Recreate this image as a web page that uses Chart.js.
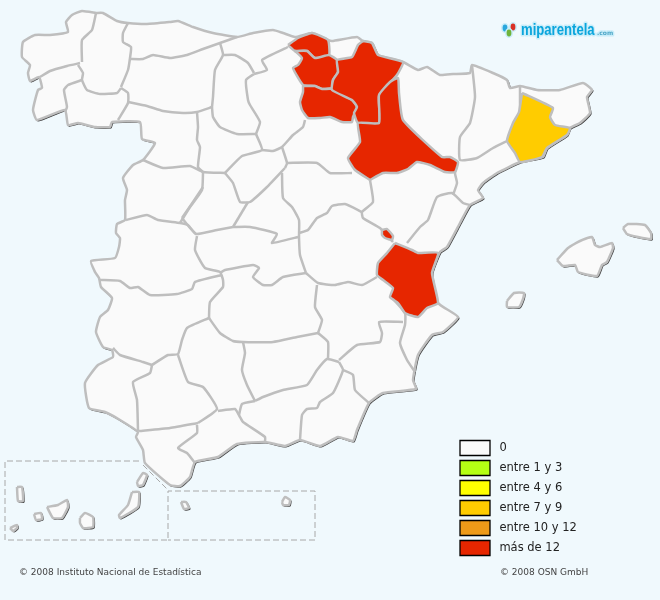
<!DOCTYPE html>
<html><head><meta charset="utf-8">
<style>html,body{margin:0;padding:0;background:#F0F9FD}canvas{display:block}</style>
<script src="https://cdn.jsdelivr.net/npm/chart.js@4/dist/chart.umd.js"></script>
</head><body><canvas id="c" width="660" height="600"></canvas>
<script>
// Map outlines, in the map's own x/y units
const coast=[[96,13],[103,13],[117,21],[128,23],[147,24],[170,22],[178,21],[193,27],[213,33],[237,37],[253,33],[273,30],[283,33],[295,37],[312,33],[328,40],[332,41],[357,37],[363,41],[372,43],[378,55],[403,62],[418,70],[427,67],[440,75],[453,74],[470,73],[472,65],[493,73],[507,80],[510,88],[520,86],[537,90],[560,90],[583,83],[592,90],[587,97],[590,113],[580,123],[570,128],[567,135],[547,148],[543,157],[520,162],[497,173],[483,183],[478,190],[483,198],[470,205],[460,223],[447,247],[440,252],[432,273],[438,303],[458,317],[443,332],[432,335],[418,355],[413,380],[416,389],[383,393],[369,403],[357,430],[353,441],[338,437],[320,446],[300,440],[285,446],[265,442],[237,444],[218,457],[195,462],[190,477],[180,486],[170,485],[145,463],[143,450],[136,437],[138,432],[120,420],[105,412],[89,408],[85,383],[98,365],[113,357],[112,350],[103,347],[96,332],[100,317],[108,310],[112,298],[101,287],[99,278],[95,272],[91,261],[115,258],[119,247],[120,238],[116,233],[117,224],[125,220],[125,200],[127,190],[123,178],[133,165],[143,160],[155,143],[142,139],[140,122],[112,122],[110,127],[95,127],[78,123],[68,125],[65,110],[37,120],[33,110],[38,90],[42,88],[39,77],[30,81],[28,73],[30,65],[22,57],[23,42],[35,35],[50,35],[68,32],[66,22],[72,15],[82,11],[96,13]];
const mallorca=[[557,260],[568,248],[580,241],[592,237],[595,245],[600,247],[612,243],[613,248],[607,262],[602,265],[597,276],[578,272],[575,265],[563,266],[557,260]];
const menorca=[[623,228],[628,224],[645,225],[651,233],[651,239],[638,237],[627,234],[623,228]];
const ibiza=[[507,301],[514,293],[524,293],[523,299],[519,307],[507,307],[507,301]];
const lanzarote=[[137,482],[143,473],[147,475],[143,485],[138,486],[137,482]];
const fuerteventura=[[132,492],[139,492],[138,507],[120,518],[119,515],[128,505],[132,492]];
const granCanaria=[[80,518],[85,513],[93,517],[93,527],[83,528],[80,523],[80,518]];
const tenerife=[[47,507],[58,505],[67,500],[68,507],[62,518],[53,518],[47,507]];
const gomera=[[34,514],[41,513],[42,519],[36,520],[34,514]];
const laPalma=[[17,487],[22,487],[23,501],[18,501],[17,487]];
const hierro=[[10,528],[17,525],[17,528],[13,531],[10,528]];
const ceuta=[[181,502],[186,502],[189,508],[184,509],[181,502]];
const melilla=[[282,502],[285,497],[290,500],[289,505],[283,505],[282,502]];
const islands=[mallorca,menorca,ibiza,lanzarote,fuerteventura,granCanaria,tenerife,gomera,laPalma,hierro,ceuta,melilla];

const borders=[
[[96,13],[92,30],[82,40],[82,62]],
[[40,77],[50,71],[67,66],[80,63]],
[[78,65],[83,73],[82,80],[87,90],[100,94],[117,93],[121,88]],
[[82,80],[68,85],[64,90],[67,107],[65,112]],
[[128,23],[123,33],[123,42],[131,47],[130,58],[128,70],[121,87]],
[[121,88],[128,93],[128,103],[118,120]],
[[130,59],[143,59],[153,55],[170,58],[187,55],[203,49],[220,43],[237,37]],
[[128,102],[147,106],[163,111],[183,113],[197,112],[212,107]],
[[220,43],[223,55],[215,70],[213,97],[212,107]],
[[223,55],[235,55],[248,63],[254,73]],
[[288,47],[262,60],[267,70],[254,74]],
[[254,74],[246,80],[248,100],[250,105],[260,122],[256,134]],
[[212,107],[213,117],[220,127],[237,134],[256,134]],
[[197,112],[198,127],[197,140],[200,147],[198,167],[203,172]],
[[256,134],[262,150],[242,156],[225,173]],
[[262,150],[273,151],[282,147],[293,135],[303,127],[305,120]],
[[225,173],[233,183],[240,202],[250,202],[267,187],[285,168]],
[[282,147],[287,163],[285,168]],
[[143,160],[163,168],[190,166],[203,172],[225,173]],
[[126,220],[147,215],[158,220],[180,223],[188,225],[196,234],[217,230],[233,227]],
[[180,223],[190,207],[202,190],[203,173]],
[[197,236],[195,250],[205,268],[220,272],[223,280],[223,287],[210,302],[209,318]],
[[182,218],[190,228],[196,234]],
[[203,187],[193,202],[182,218]],
[[233,227],[250,227],[277,234],[272,243],[298,237]],
[[248,202],[233,227]],
[[282,173],[283,198],[292,207],[299,220],[299,237],[300,255],[306,273]],
[[299,233],[308,230],[317,218],[327,213],[332,206],[345,204],[362,212]],
[[287,163],[317,163],[330,173],[352,173]],
[[370,180],[373,202],[362,212],[363,218],[380,228],[393,242]],
[[377,277],[362,285],[348,282],[335,285],[318,283],[306,273]],
[[220,273],[225,270],[253,265],[259,268],[253,277],[263,285],[272,285],[283,277],[306,273]],
[[100,280],[120,281],[130,288],[138,287],[150,295],[177,294],[192,289],[195,282],[222,275]],
[[209,318],[187,328],[182,340],[178,354],[168,355],[152,365]],
[[113,348],[120,355],[143,362],[152,365]],
[[152,365],[150,373],[133,382],[137,400],[138,431]],
[[178,355],[188,382],[203,387],[217,409],[198,423]],
[[139,431],[170,428],[198,423]],
[[197,425],[197,433],[178,448],[187,453],[195,463]],
[[218,411],[235,409],[240,417],[243,422],[265,437],[265,442]],
[[209,318],[220,333],[233,341],[243,342],[273,342],[297,337],[318,333]],
[[243,342],[245,353],[242,370],[247,385],[255,401]],
[[255,401],[242,404],[239,415]],
[[255,401],[263,397],[283,390],[307,385],[317,370],[327,359],[339,362]],
[[318,333],[328,342],[328,359]],
[[317,285],[315,307],[322,320],[318,333]],
[[339,360],[357,345],[380,342],[382,333],[379,322],[403,322]],
[[392,298],[405,313],[405,325],[400,343],[407,360],[415,372]],
[[300,440],[302,415],[307,409],[317,408],[320,402],[333,393],[343,370],[339,362]],
[[343,370],[353,375],[355,390],[369,403]],
[[407,243],[420,227],[428,220],[437,197],[452,193],[463,203],[470,205]],
[[358,123],[379,123]],
[[472,65],[475,97],[470,123],[460,137],[460,160],[477,158],[493,148],[507,141]],
[[458,162],[455,173],[457,183],[453,195]],
[[520,86],[520,110]]
];

const vizcaya=[[288,45],[298,38],[312,33],[328,40],[329,55],[315,58],[307,51],[295,51],[288,45]];
const alava=[[295,51],[302,58],[298,65],[293,68],[303,85],[315,86],[322,89],[332,88],[333,80],[338,72],[337,60],[329,55],[315,58],[307,51],[295,51]];
const laRioja=[[303,86],[315,86],[322,89],[332,89],[352,100],[357,107],[353,117],[352,122],[342,122],[330,117],[320,118],[308,118],[302,110],[300,102],[303,92],[303,86]];
const navarra=[[363,41],[372,43],[378,55],[403,62],[397,75],[388,85],[379,96],[379,123],[358,123],[354,113],[357,107],[352,100],[332,90],[333,80],[338,72],[337,60],[352,57],[358,45],[363,41]];
const zaragoza=[[370,180],[383,173],[397,173],[408,169],[417,162],[430,165],[445,172],[455,172],[458,162],[450,157],[442,157],[403,120],[399,93],[398,78],[390,82],[379,95],[379,123],[358,123],[360,142],[348,158],[355,170],[370,180]];
const valencia=[[395,243],[412,250],[418,253],[438,253],[432,273],[438,303],[427,308],[418,317],[405,313],[398,303],[390,297],[393,288],[383,280],[377,275],[378,263],[387,253],[395,243]];
const rincon=[[382,230],[387,229],[393,236],[392,240],[385,238],[382,235],[382,230]];
const barcelona=[[522,93],[553,108],[550,117],[555,125],[570,128],[567,135],[547,148],[542,157],[520,162],[515,153],[507,141],[513,123],[519,112],[522,93]];
const topBand=[vizcaya,alava,laRioja,navarra,zaragoza,valencia,rincon];

const insetLines=[[[139,461],[5,461],[5,540],[168,540],[168,491],[315,491],[315,540],[168,540]],[[143,465],[168,490]]];

const legendLabels=['0','entre 1 y 3','entre 4 y 6','entre 7 y 9','entre 10 y 12','más de 12'];
const legendColors=['#FAFAFA','#B5FF14','#FFFF00','#FFCC00','#EE9A18','#E62600'];
const creditLeft='© 2008 Instituto Nacional de Estadística';
const creditRight='© 2008 OSN GmbH';
const logoText='miparentela';
const logoSuffix='.com';

const EMPTY=legendColors[0],TOP=legendColors[5],MID=legendColors[3],EDGE='#BEBEBE',SHADOW='#444444';
const shifted=p=>p.map(([x,y])=>[x+1,y+1]);
const shape=(data,fillCol,edge=EDGE,bw=2.5)=>({data,showLine:true,fill:'shape',backgroundColor:fillCol,borderColor:edge,borderWidth:bw,pointRadius:0,tension:.15,clip:false});
const line=(data)=>({data,showLine:true,fill:false,borderColor:EDGE,borderWidth:2.5,pointRadius:0,tension:.15,clip:false});
const ds=[];
[coast,...islands].forEach(p=>ds.push(shape(shifted(p),SHADOW,SHADOW,1.2)));
[coast,...islands].forEach(p=>ds.push(shape(p,EMPTY)));
borders.forEach(p=>ds.push(line(p)));
topBand.forEach(p=>ds.push(shape(p,TOP)));
ds.push(shape(barcelona,MID));
insetLines.forEach(p=>ds.push({data:p,showLine:true,fill:false,borderColor:'#A8A8A8',borderWidth:1,borderDash:[6,3],pointRadius:0,clip:false}));
ds.forEach((d,i)=>d.order=ds.length-i);

const extras={id:'extras',
 beforeDraw(ch){const l=ch.legend;l.left=455;l.top=435.5;},
 afterDraw(ch){const c=ch.ctx;c.save();
  c.textBaseline='alphabetic';c.fillStyle='#444';c.font='9px "DejaVu Sans"';
  c.fillText(creditLeft,19,575);c.fillText(creditRight,500,575);
  // logo
  [[505,28,'#2AA7DD'],[513,27,'#D93025'],[509,33,'#6FB33A']].forEach(([x,y,col])=>{
    c.beginPath();c.ellipse(x,y,4,5,0,0,7);c.fillStyle='#C9EDF9';c.fill();
    c.beginPath();c.ellipse(x,y,2.4,3.4,0,0,7);c.fillStyle=col;c.fill();});
  c.lineJoin='round';c.strokeStyle='#C9EDF9';c.lineWidth=3;
  c.save();c.translate(521,35);c.scale(.82,1);c.font='bold 16px "Liberation Sans"';
  c.strokeText(logoText,0,0);c.fillStyle='#0AA5DC';c.fillText(logoText,0,0);c.restore();
  c.font='bold 6px "DejaVu Sans"';c.strokeText(logoSuffix,597,35);c.fillStyle='#4FA8C8';c.fillText(logoSuffix,597,35);
  c.restore();}};

new Chart(document.getElementById('c'),{type:'scatter',data:{datasets:ds},plugins:[extras],options:{
 responsive:false,animation:false,devicePixelRatio:1,layout:{padding:0},
 scales:{x:{type:'linear',min:0,max:660,display:false},y:{type:'linear',min:0,max:600,reverse:true,display:false}},
 plugins:{tooltip:{enabled:false},title:{display:false},
  legend:{display:true,position:'chartArea',align:'start',labels:{boxWidth:30,boxHeight:15,padding:5,color:'#222',font:{family:'"DejaVu Sans"',size:11.5},
   generateLabels:()=>legendLabels.map((t,i)=>({text:'\u00A0'+t,fillStyle:legendColors[i],strokeStyle:'#000',lineWidth:1.3,fontColor:'#222',hidden:false,datasetIndex:i}))}}}}});
</script></body></html>
